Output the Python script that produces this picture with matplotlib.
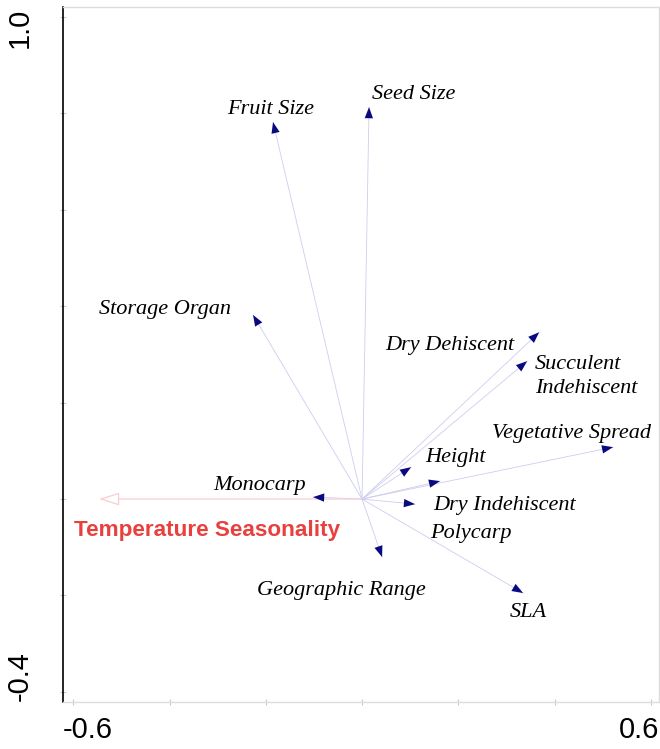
import numpy as np
import matplotlib.pyplot as plt
from matplotlib.transforms import ScaledTranslation

# trait loadings on the two ordination axes
traits = ["Fruit Size", "Seed Size", "Storage Organ", "Dry Dehiscent",
          "Succulent\nIndehiscent", "Vegetative Spread", "Height", "Polycarp",
          "Dry Indehiscent", "SLA", "Geographic Range", "Monocarp"]
axis1 = [-0.185, 0.0145, -0.2265, 0.368, 0.343, 0.5216, 0.102, 0.162,
         0.110, 0.3346, 0.0416, -0.1018]
axis2 = [0.782, 0.813, 0.382, 0.346, 0.286, 0.1077, 0.0662, 0.0372,
         -0.0106, -0.195, -0.1203, 0.004]

# environmental vector
env_name = "Temperature Seasonality"
env_axis1 = -0.5466
env_axis2 = 0.0

# where each trait name sits (left edge, baseline of last line)
label_x = [-0.2805, 0.0208, -0.5466, 0.0478, 0.3595, 0.270, 0.1309, 0.1413,
           0.1476, 0.3076, -0.2182, -0.3096]
label_y = [0.7987, 0.830, 0.3837, 0.309, 0.2198, 0.1264, 0.0766, -0.0811,
           -0.0230, -0.2450, -0.1994, 0.0185]
env_label_xy = (-0.5985, -0.077)

xticks = np.round(np.arange(-0.6, 0.61, 0.2), 1)
yticks = np.round(np.arange(-0.4, 1.01, 0.2), 1)

fig = plt.figure(figsize=(6.6, 7.49), dpi=100)
ax = fig.add_axes([0.095, 0.0634, 0.9035, 0.9268])
ax.set_xlim(-0.622, 0.617)
ax.set_ylim(-0.420, 1.020)

line_col = "#cdcdef"
head_col = "#0a0a80"
pink = "#f8cdd3"

# environmental arrow: pale line with an open head
ax.annotate("", xy=(env_axis1, env_axis2), xytext=(0, 0),
            arrowprops=dict(arrowstyle="-|>,head_length=1.26,head_width=0.4",
                            fc="white", ec=pink, lw=0.9, mutation_scale=10,
                            shrinkA=0, shrinkB=0))

# trait arrows: thin shaft, solid navy head
for x, y in zip(axis1, axis2):
    ax.plot([0, x], [0, y], color=line_col, lw=0.6, zorder=2)
    ax.annotate("", xy=(x, y), xytext=(x * 0.97, y * 0.97),
                arrowprops=dict(arrowstyle="-|>,head_length=0.8,head_width=0.3",
                                color=head_col, lw=0, mutation_scale=10,
                                shrinkA=0, shrinkB=0), zorder=3)

for name, lx, ly in zip(traits, label_x, label_y):
    ax.text(lx, ly, name, family="Liberation Serif", style="italic",
            fontsize=16, ha="left", va="baseline", linespacing=1.35)

ax.text(env_label_xy[0], env_label_xy[1], env_name, family="Liberation Sans",
        fontweight="bold", fontsize=16.2, color="#e8403f", ha="left", va="baseline")

# axes: black left line, light grey frame elsewhere
for side in ["top", "right", "bottom"]:
    ax.spines[side].set_color("#dcdcdc")
    ax.spines[side].set_linewidth(1.0)
ax.spines["left"].set_color("black")
ax.spines["left"].set_linewidth(1.2)

ax.set_xticks(xticks)
ax.set_yticks(yticks)
ax.set_xticklabels([f"{v:.1f}" if v in (-0.6, 0.6) else "" for v in xticks])
ax.set_yticklabels([f"{v:.1f}" if v in (-0.4, 1.0) else "" for v in yticks])
ax.tick_params(direction="inout", length=5, width=0.8, color="#c8c8c8",
               labelsize=21)
ax.tick_params(axis="x", pad=8)
ax.tick_params(axis="y", labelrotation=90, pad=18)
for lab in ax.get_xticklabels() + ax.get_yticklabels():
    lab.set_family("Liberation Sans")
for lab in ax.get_yticklabels():
    lab.set_va("center")

# nudge the end labels inward
xl = ax.get_xticklabels()
xl[0].set_transform(xl[0].get_transform() + ScaledTranslation(0.147, 0, fig.dpi_scale_trans))
xl[-1].set_transform(xl[-1].get_transform() + ScaledTranslation(-0.117, 0, fig.dpi_scale_trans))
yl = ax.get_yticklabels()
yl[0].set_transform(yl[0].get_transform() + ScaledTranslation(0, 0.157, fig.dpi_scale_trans))
yl[-1].set_transform(yl[-1].get_transform() + ScaledTranslation(0, -0.11, fig.dpi_scale_trans))

fig.savefig("out.png", dpi=100)
